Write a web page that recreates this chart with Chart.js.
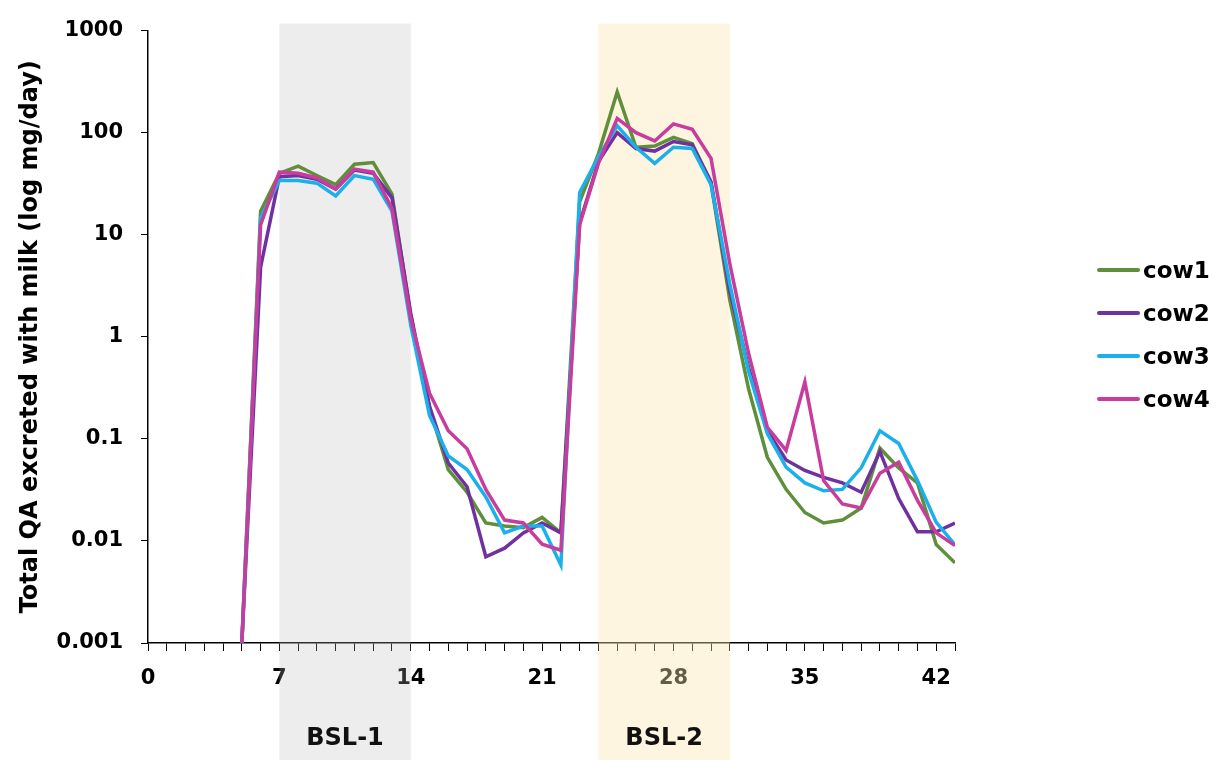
<!DOCTYPE html>
<html>
<head>
<meta charset="utf-8">
<script src="https://cdn.jsdelivr.net/npm/chart.js@4.4.1/dist/chart.umd.min.js"></script>
<style>
  html, body { margin: 0; padding: 0; background: #fff; }
  #wrap { position: relative; width: 1216px; height: 760px; }
  #legend { position: absolute; left: 1097px; top: 248px; font: bold 23px 'DejaVu Sans', sans-serif; color: #000; }
  .legend-item { display: flex; align-items: center; height: 43px; }
  .legend-line { width: 43px; height: 4px; border-radius: 2px; margin-right: 3px; }
</style>
</head>
<body>
<div id="wrap">
  <canvas id="chart" width="1216" height="760"></canvas>
  <div id="legend"></div>
</div>
<script>
'use strict';

// days of sampling (x)
const days = [5, 6, 7, 8, 9, 10, 11, 12, 13, 14, 15, 16, 17, 18, 19, 20, 21, 22, 23, 24,
              25, 26, 27, 28, 29, 30, 31, 32, 33, 34, 35, 36, 37, 38, 39, 40, 41, 42, 43];

// total QA in milk, mg/day
const cow1 = [0.001, 17, 40, 47, 38, 31, 49, 51, 25, 1.6, 0.2, 0.05, 0.03, 0.015, 0.014, 0.0135, 0.017, 0.012, 21, 62,
              250, 72, 74, 90, 78, 32, 2.3, 0.31, 0.066, 0.032, 0.019, 0.015, 0.016, 0.021, 0.081, 0.052, 0.037, 0.0092, 0.0061];
const cow2 = [0.001, 4.8, 37, 38, 35, 28, 43, 40, 23, 1.7, 0.21, 0.058, 0.034, 0.007, 0.0085, 0.012, 0.015, 0.012, 13, 52,
              100, 70, 66, 82, 76, 33, 2.8, 0.5, 0.12, 0.062, 0.049, 0.042, 0.037, 0.03, 0.075, 0.026, 0.0123, 0.0123, 0.015];
const cow3 = [0.001, 14.5, 34, 34, 32, 24, 38, 35, 17, 1.3, 0.17, 0.068, 0.05, 0.027, 0.012, 0.014, 0.014, 0.0058, 26, 58,
              117, 72, 50, 72, 70, 31, 3.3, 0.46, 0.113, 0.053, 0.037, 0.031, 0.032, 0.052, 0.12, 0.09, 0.039, 0.0152, 0.0092];
const cow4 = [0.001, 12.5, 41, 40, 36, 28, 44, 41, 18, 1.5, 0.28, 0.12, 0.08, 0.032, 0.016, 0.015, 0.0093, 0.0081, 12.5, 50,
              138, 100, 83, 122, 108, 56, 5.2, 0.69, 0.13, 0.077, 0.36, 0.039, 0.023, 0.021, 0.046, 0.059, 0.025, 0.012, 0.009];

const seriesNames  = ['cow1', 'cow2', 'cow3', 'cow4'];
const seriesValues = [cow1, cow2, cow3, cow4];
const seriesColors = ['#5f8f3a', '#7030a0', '#1cb0ea', '#c83c9e'];

// axis ticks
const xLabelDays  = [0, 7, 14, 21, 28, 35, 42];
const yTickValues = [0.001, 0.01, 0.1, 1, 10, 100, 1000];

// shaded periods
const bandStarts = [7, 24];
const bandEnds   = [14, 31];
const bandLabels = ['BSL-1', 'BSL-2'];
const bandFills  = ['rgba(183,183,183,0.25)', 'rgba(250,230,178,0.4)'];

const FONT = "'DejaVu Sans', sans-serif";

// 구간 음영 + 라벨
const bandsPlugin = {
  id: 'bands',
  beforeDatasetsDraw(chart) {
    const { ctx, chartArea, scales: { x } } = chart;
    ctx.save();
    bandStarts.forEach((s, i) => {
      const x1 = x.getPixelForValue(s);
      const x2 = x.getPixelForValue(bandEnds[i]);
      ctx.fillStyle = bandFills[i];
      ctx.fillRect(x1, chartArea.top - 7, x2 - x1, chart.height - chartArea.top + 7);
      ctx.fillStyle = '#111';
      ctx.font = `bold 24px ${FONT}`;
      ctx.textAlign = 'center';
      ctx.textBaseline = 'middle';
      ctx.fillText(bandLabels[i], (x1 + x2) / 2, chart.height - 21);
    });
    ctx.restore();
  }
};

const datasets = seriesNames.map((name, i) => ({
  label: name,
  data: days.map((d, j) => ({ x: d, y: seriesValues[i][j] })),
  borderColor: seriesColors[i],
  backgroundColor: seriesColors[i],
  borderWidth: 3.5,
  pointRadius: 0,
  tension: 0,
  order: seriesNames.length - i
}));

new Chart(document.getElementById('chart'), {
  type: 'line',
  data: { datasets },
  options: {
    responsive: false,
    animation: false,
    layout: { padding: { top: 30, right: 261, left: 0, bottom: 0 } },
    plugins: { legend: { display: false }, tooltip: { enabled: false } },
    scales: {
      x: {
        type: 'linear',
        min: 0, max: 43,
        afterFit: s => { s.height = 117; },
        grid: { drawOnChartArea: false, drawTicks: true, tickLength: 8, color: '#000', lineWidth: 1 },
        border: { color: '#000', width: 1.5 },
        ticks: {
          stepSize: 1, autoSkip: false, maxRotation: 0, padding: 15,
          color: '#000',
          font: { family: FONT, size: 21, weight: 'bold' },
          callback: v => xLabelDays.includes(v) ? String(v) : ''
        }
      },
      y: {
        type: 'logarithmic',
        min: 0.001, max: 1000,
        afterFit: s => { s.width = 148; },
        afterBuildTicks: s => { s.ticks = yTickValues.map(v => ({ value: v })); },
        grid: { drawOnChartArea: false, drawTicks: true, tickLength: 7, color: '#000', lineWidth: 1 },
        border: { color: '#000', width: 1.5 },
        ticks: {
          padding: 18,
          color: '#000',
          font: { family: FONT, size: 21, weight: 'bold' },
          callback: v => String(v)
        },
        title: {
          display: true,
          text: 'Total QA excreted with milk (log mg/day)',
          color: '#000',
          padding: { top: 16, bottom: 0 },
          font: { family: FONT, size: 24, weight: 'bold' }
        }
      }
    }
  },
  plugins: [bandsPlugin]
});

// 범례 (html)
document.getElementById('legend').innerHTML = seriesNames.map((name, i) => `
  <div class="legend-item">
    <div class="legend-line" style="background:${seriesColors[i]}"></div>
    <span>${name}</span>
  </div>
`).join('');
</script>
</body>
</html>
